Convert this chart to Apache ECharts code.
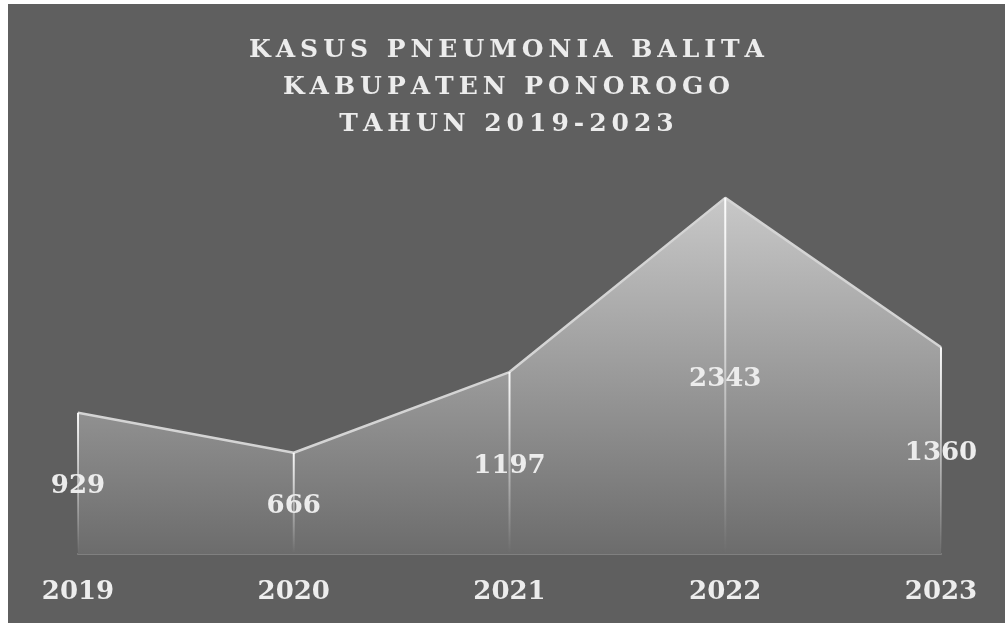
<!DOCTYPE html>
<html>
<head>
<meta charset="utf-8">
<script src="https://cdn.jsdelivr.net/npm/echarts@6/dist/echarts.min.js"></script>
<style>
  html, body { margin: 0; padding: 0; background: #ffffff; }
  #chart { position: absolute; left: 8px; top: 4px; width: 997px; height: 619px; }
</style>
</head>
<body>
<div id="chart"></div>
<script>
// data
const years = ['2019', '2020', '2021', '2022', '2023']
const kasus = [929, 666, 1197, 2343, 1360]
const titleLines = ['KASUS PNEUMONIA BALITA', 'KABUPATEN PONOROGO', 'TAHUN 2019-2023']

const serif = '"DejaVu Serif", "Liberation Serif", serif'

// the original title is letter-spaced, fake it with thin spaces
const spaced = s => s.split('').join('\u2009')

const chart = echarts.init(document.getElementById('chart'))

chart.setOption({
    backgroundColor: '#5f5f5f',
    title: {
        text: titleLines.map(spaced).join('\n'),
        left: 'center',
        top: 23,
        textStyle: {
            color: '#ececec',
            fontFamily: serif,
            fontWeight: 'bold',
            fontSize: 25,
            lineHeight: 37
        }
    },
    grid: {
        left: 70,
        right: 64,
        top: 170,
        bottom: 69
    },
    xAxis: {
        type: 'category',
        data: years,
        boundaryGap: false,
        axisLine: {
            lineStyle: { color: '#808080', width: 2 }
        },
        axisTick: { show: false },
        axisLabel: {
            color: '#ededed',
            fontFamily: serif,
            fontWeight: 'bold',
            fontSize: 26,
            margin: 25
        }
    },
    yAxis: {
        type: 'value',
        min: 0,
        max: 2500,
        show: false,
        splitLine: { show: false }
    },
    series: [{
        name: 'Kasus',
        type: 'line',
        data: kasus,
        symbol: 'none',
        lineStyle: { color: '#d4d4d4', width: 2.5 },
        areaStyle: {
            opacity: 1,
            color: new echarts.graphic.LinearGradient(0, 0, 0, 1, [
                { offset: 0, color: '#c8c8c8' },
                { offset: 1, color: '#6c6c6c' }
            ])
        },
        z: 2
    },
    {
        // drop lines + value labels
        type: 'custom',
        data: kasus.map((v, i) => [i, v]),
        z: 3,
        renderItem(params, api) {
            const i = api.value(0)
            const v = api.value(1)
            const top = api.coord([i, v])
            const base = api.coord([i, 0])
            const mid = api.coord([i, v / 2])
            return {
                type: 'group',
                children: [{
                    type: 'line',
                    shape: { x1: top[0], y1: top[1], x2: base[0], y2: base[1] - 2 },
                    style: {
                        lineWidth: 2,
                        stroke: new echarts.graphic.LinearGradient(0, 0, 0, 1, [
                            { offset: 0, color: 'rgba(255,255,255,0.95)' },
                            { offset: 1, color: 'rgba(255,255,255,0)' }
                        ])
                    }
                },
                {
                    type: 'text',
                    x: mid[0],
                    y: mid[1] + 3,
                    style: {
                        text: String(v),
                        fill: '#ececec',
                        font: 'bold 26px ' + serif,
                        align: 'center',
                        verticalAlign: 'middle'
                    }
                }]
            }
        }
    }]
})
</script>
</body>
</html>
